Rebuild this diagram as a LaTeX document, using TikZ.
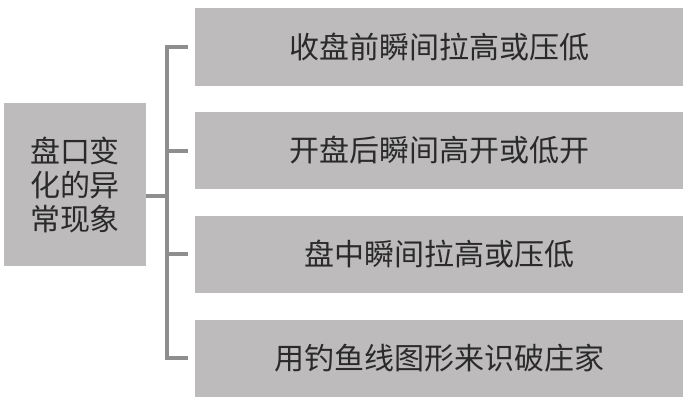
\documentclass[tikz,border=0pt]{standalone}
\usepackage{fontspec}
\newfontfamily\cjk{Noto Sans CJK SC}
\definecolor{boxgray}{HTML}{BDBBBC}
\definecolor{linegray}{HTML}{8E8E8E}
\definecolor{txt}{HTML}{2A2A2A}
\begin{document}
\begin{tikzpicture}[x=1pt,y=-1pt,
  box/.style={fill=boxgray,draw=none,inner sep=0pt,font=\cjk\fontsize{30}{34}\selectfont,text=txt,align=center},
  conn/.style={draw=linegray,line width=4pt}]
\useasboundingbox (0,0) rectangle (688,404);
\node[box,minimum width=142pt,minimum height=163pt] (root) at (75,184.5) {盘口变\\化的异\\常现象};
\node[box,minimum width=488pt,minimum height=77pt] (b1) at (439,47) {收盘前瞬间拉高或压低};
\node[box,minimum width=488pt,minimum height=77pt] (b2) at (439,150.5) {开盘后瞬间高开或低开};
\node[box,minimum width=488pt,minimum height=77pt] (b3) at (439,254) {盘中瞬间拉高或压低};
\node[box,minimum width=488pt,minimum height=77pt] (b4) at (439,358) {用钓鱼线图形来识破庄家};
\coordinate (top) at (167,47);
\coordinate (bot) at (167,358);
\path[conn] ([xshift=-7pt]b1.west) -- (top) -- (bot) -- ([xshift=-7pt]b4.west);
\path[conn] ([xshift=-7pt]b2.west) -- (167,150.5);
\path[conn] ([xshift=-7pt]b3.west) -- (167,254);
\path[conn] (root.east |- 0,196) -- (167,196);
\end{tikzpicture}
\end{document}
